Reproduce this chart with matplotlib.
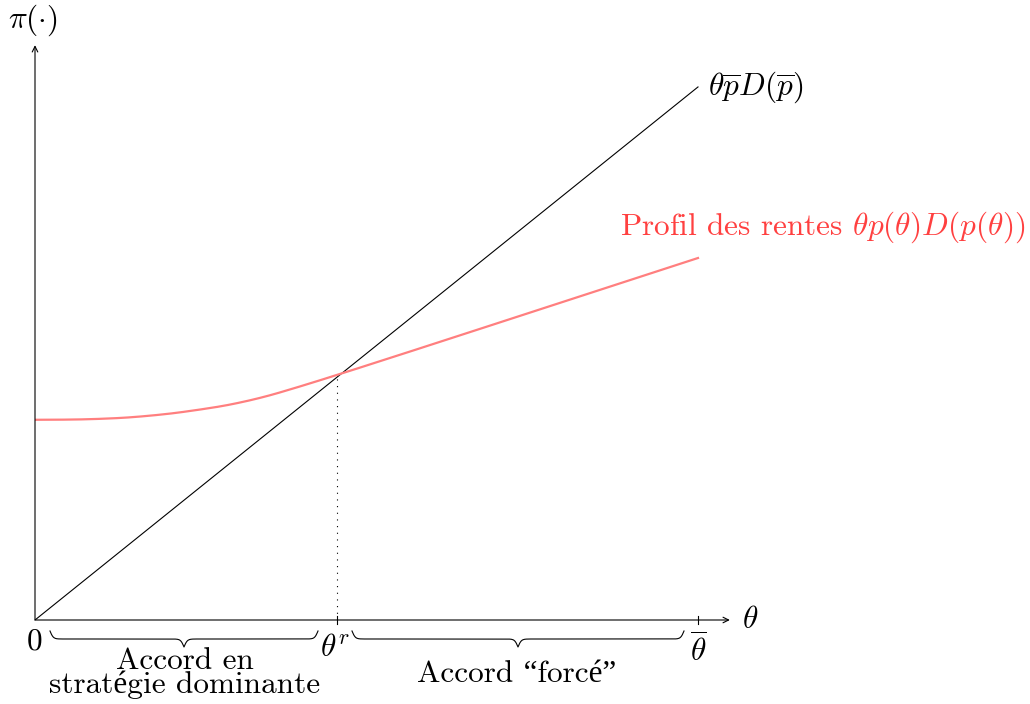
import numpy as np
import matplotlib.pyplot as plt

plt.rcParams['font.family'] = ['cmr10', 'Liberation Serif']
plt.rcParams['mathtext.fontset'] = 'cm'
plt.rcParams['axes.formatter.use_mathtext'] = True

# data (theta scaled so that theta_bar = 1)
theta_r = 0.4555
theta_bar = 1.0
line_theta = [0.0, 1.0]
line_pi = [0.0, 0.804]
rent_theta = [0.0, 0.05, 0.10, 0.17, 0.25, 0.32, 0.37, 0.4555, 0.6, 0.8, 1.0]
rent_pi = [0.302, 0.302, 0.303, 0.307, 0.317, 0.329, 0.343, 0.3695, 0.416, 0.481, 0.546]

fig = plt.figure(figsize=(10.3, 7.04), dpi=100)
ax = fig.add_axes([35/1030, 84/704, 1.1*663/1030, 0.9*663/704])
ax.set_xlim(0, 1.1)
ax.set_ylim(0, 0.9)
ax.axis('off')

s = 1/663  # one pixel in data units

# axes with arrows
ax.annotate('', xy=(1.048, 0), xytext=(0, 0),
            arrowprops=dict(arrowstyle='->', lw=0.8, color='black', shrinkA=0, shrinkB=0))
ax.annotate('', xy=(0, 0.867), xytext=(0, 0),
            arrowprops=dict(arrowstyle='->', lw=0.8, color='black', shrinkA=0, shrinkB=0))

# rent curve: smoothed on the left part only
tt = np.linspace(0, 1, 400)
pp = np.interp(tt, rent_theta, rent_pi)
k = np.ones(41) / 41
pp_s = np.convolve(np.pad(pp, 20, mode='edge'), k, mode='valid')
pp = np.where(tt < 0.6, pp_s, pp)

ax.plot(line_theta, line_pi, color='black', lw=0.8)
ax.plot(tt, pp, color='#ff7f7f', lw=1.6)

# dotted line at theta_r
ax.plot([theta_r, theta_r], [0, 0.3695], color='black', lw=0.8, ls=(0, (1, 5)))

# ticks
for xv in [theta_r, theta_bar]:
    ax.plot([xv, xv], [-4*s, 4*s], color='black', lw=0.8, clip_on=False)


def brace(x0, x1, ytop, h, beta=400):
    x = np.linspace(x0, x1, 401)
    half = x[:201]
    yh = 1/(1+np.exp(-beta*(half-half[0]))) + 1/(1+np.exp(-beta*(half-half[-1])))
    y = np.concatenate((yh, yh[-2::-1]))
    return x, ytop - h*(y - 0.5)


bx, by = brace(15*s, 283*s, -11*s, 16*s)
ax.plot(bx, by, color='black', lw=0.8, clip_on=False)
bx, by = brace(317*s, 649*s, -11*s, 16*s)
ax.plot(bx, by, color='black', lw=0.8, clip_on=False)

fs = 22.5
ax.text(0, -22*s, '0', ha='center', va='center', fontsize=fs)
ax.text(theta_r - 2*s, -28*s, r'$\theta^r$', ha='center', va='center', fontsize=fs)
ax.text(theta_bar, -30*s, r'$\overline{\theta}$', ha='center', va='center', fontsize=fs)
ax.text(1.078, 0, r'$\theta$', ha='center', va='center', fontsize=fs)
ax.text(-2*s, 600*s, r'$\pi(\cdot)$', ha='center', va='center', fontsize=fs, clip_on=False)
ax.text(673*s, 0.804, r'$\theta\overline{p}D(\overline{p})$', ha='left', va='center', fontsize=fs)
ax.text(585*s, 393*s, r'Profil des rentes $\theta p(\theta)D(p(\theta))$', ha='left', va='center',
        fontsize=fs, color='#ff4040')
ax.text(150*s, -53*s, 'Accord en\nstratégie dominante', ha='center', va='center',
        fontsize=fs, linespacing=0.8)
ax.text(482*s, -54*s, 'Accord “forcé”', ha='center', va='center', fontsize=fs)

plt.savefig('out.png', dpi=100)
